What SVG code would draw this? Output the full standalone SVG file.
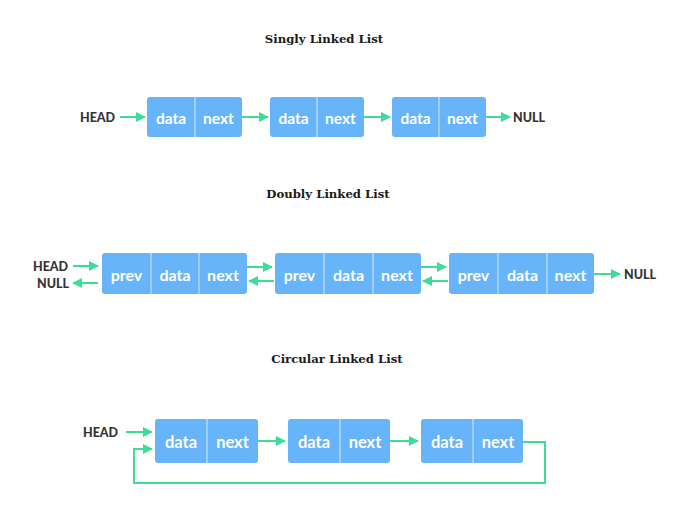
<svg xmlns="http://www.w3.org/2000/svg" width="686" height="528" viewBox="0 0 686 528">
<defs>
<marker id="ah" viewBox="0 0 10 10" refX="9" refY="5" markerWidth="5" markerHeight="5" orient="auto" markerUnits="strokeWidth">
<path d="M0,0 L10,5 L0,10 z" fill="#3ddc97"/>
</marker>
<style>
.title{font-family:"DejaVu Serif",serif;font-weight:bold;font-size:11.7px;fill:#1a1a1a;text-anchor:middle}
.box{fill:#68b4fb}
.div{stroke:#d6ebff;stroke-width:1}
.t{font-family:Lato,"Liberation Sans",sans-serif;font-weight:bold;fill:#ffffff;text-anchor:middle;dominant-baseline:central}
.lbl{font-family:Lato,"Liberation Sans",sans-serif;font-weight:900;font-size:12.5px;fill:#333333;dominant-baseline:central}
.ar{stroke:#3ddc97;stroke-width:2;fill:none;marker-end:url(#ah)}
</style>
</defs>
<rect width="686" height="528" fill="#ffffff"/>
<text class="title" x="324" y="43">Singly Linked List</text>
<text class="title" x="328" y="198">Doubly Linked List</text>
<text class="title" x="337" y="363">Circular Linked List</text>

<g id="s-head"><text class="lbl" x="80" y="117">HEAD</text></g>
<g id="s-null"><text class="lbl" x="513" y="117">NULL</text></g>
<g id="s1"><rect class="box" x="147" y="97" width="95" height="40" rx="3"/><line class="div" x1="195" y1="97" x2="195" y2="137"/><text class="t" x="171" y="118" font-size="15.5">data</text><text class="t" x="218.5" y="118" font-size="15.5">next</text></g>
<g id="s2"><rect class="box" x="270" y="97" width="94" height="40" rx="3"/><line class="div" x1="317" y1="97" x2="317" y2="137"/><text class="t" x="293.5" y="118" font-size="15.5">data</text><text class="t" x="340.5" y="118" font-size="15.5">next</text></g>
<g id="s3"><rect class="box" x="392" y="97" width="94" height="40" rx="3"/><line class="div" x1="439" y1="97" x2="439" y2="137"/><text class="t" x="415.5" y="118" font-size="15.5">data</text><text class="t" x="462.5" y="118" font-size="15.5">next</text></g>

<g id="d-head"><text class="lbl" x="33" y="266">HEAD</text></g>
<g id="d-null1"><text class="lbl" x="37" y="283">NULL</text></g>
<g id="d-null2"><text class="lbl" x="624" y="274">NULL</text></g>
<g id="d1"><rect class="box" x="102" y="253" width="145" height="41" rx="3"/><line class="div" x1="151" y1="253" x2="151" y2="294"/><line class="div" x1="199" y1="253" x2="199" y2="294"/><text class="t" x="126.5" y="274.5" font-size="16">prev</text><text class="t" x="175" y="274.5" font-size="16">data</text><text class="t" x="223" y="274.5" font-size="16">next</text></g>
<g id="d2"><rect class="box" x="275" y="253" width="146" height="41" rx="3"/><line class="div" x1="324" y1="253" x2="324" y2="294"/><line class="div" x1="373" y1="253" x2="373" y2="294"/><text class="t" x="299.5" y="274.5" font-size="16">prev</text><text class="t" x="348.5" y="274.5" font-size="16">data</text><text class="t" x="397" y="274.5" font-size="16">next</text></g>
<g id="d3"><rect class="box" x="449" y="253" width="145" height="41" rx="3"/><line class="div" x1="498" y1="253" x2="498" y2="294"/><line class="div" x1="547" y1="253" x2="547" y2="294"/><text class="t" x="473.5" y="274.5" font-size="16">prev</text><text class="t" x="522.5" y="274.5" font-size="16">data</text><text class="t" x="570.5" y="274.5" font-size="16">next</text></g>

<g id="c-head"><text class="lbl" x="83" y="432">HEAD</text></g>
<g id="c1"><rect class="box" x="155" y="419" width="103" height="44" rx="3"/><line class="div" x1="207" y1="419" x2="207" y2="463"/><text class="t" x="181" y="441.5" font-size="16.5">data</text><text class="t" x="232.5" y="441.5" font-size="16.5">next</text></g>
<g id="c2"><rect class="box" x="288" y="419" width="102" height="44" rx="3"/><line class="div" x1="340" y1="419" x2="340" y2="463"/><text class="t" x="314" y="441.5" font-size="16.5">data</text><text class="t" x="365" y="441.5" font-size="16.5">next</text></g>
<g id="c3"><rect class="box" x="421" y="419" width="102" height="44" rx="3"/><line class="div" x1="473" y1="419" x2="473" y2="463"/><text class="t" x="447" y="441.5" font-size="16.5">data</text><text class="t" x="498" y="441.5" font-size="16.5">next</text></g>

<g id="connectors">
<line class="ar" x1="120" y1="117" x2="145" y2="117"/>
<line class="ar" x1="242" y1="117" x2="268" y2="117"/>
<line class="ar" x1="364" y1="117" x2="390" y2="117"/>
<line class="ar" x1="486" y1="117" x2="510" y2="117"/>

<line class="ar" x1="73" y1="266" x2="98" y2="266"/>
<line class="ar" x1="98" y1="283" x2="73" y2="283"/>
<line class="ar" x1="247" y1="267" x2="272" y2="267"/>
<line class="ar" x1="274" y1="281" x2="249" y2="281"/>
<line class="ar" x1="421" y1="267" x2="446" y2="267"/>
<line class="ar" x1="448" y1="281" x2="423" y2="281"/>
<line class="ar" x1="594" y1="274" x2="620" y2="274"/>

<line class="ar" x1="126" y1="432" x2="152" y2="432"/>
<line class="ar" x1="258" y1="441" x2="285" y2="441"/>
<line class="ar" x1="390" y1="441" x2="418" y2="441"/>
<path class="ar" d="M523,442 H545 V483 H134 V449 H152"/>
</g>
</svg>
